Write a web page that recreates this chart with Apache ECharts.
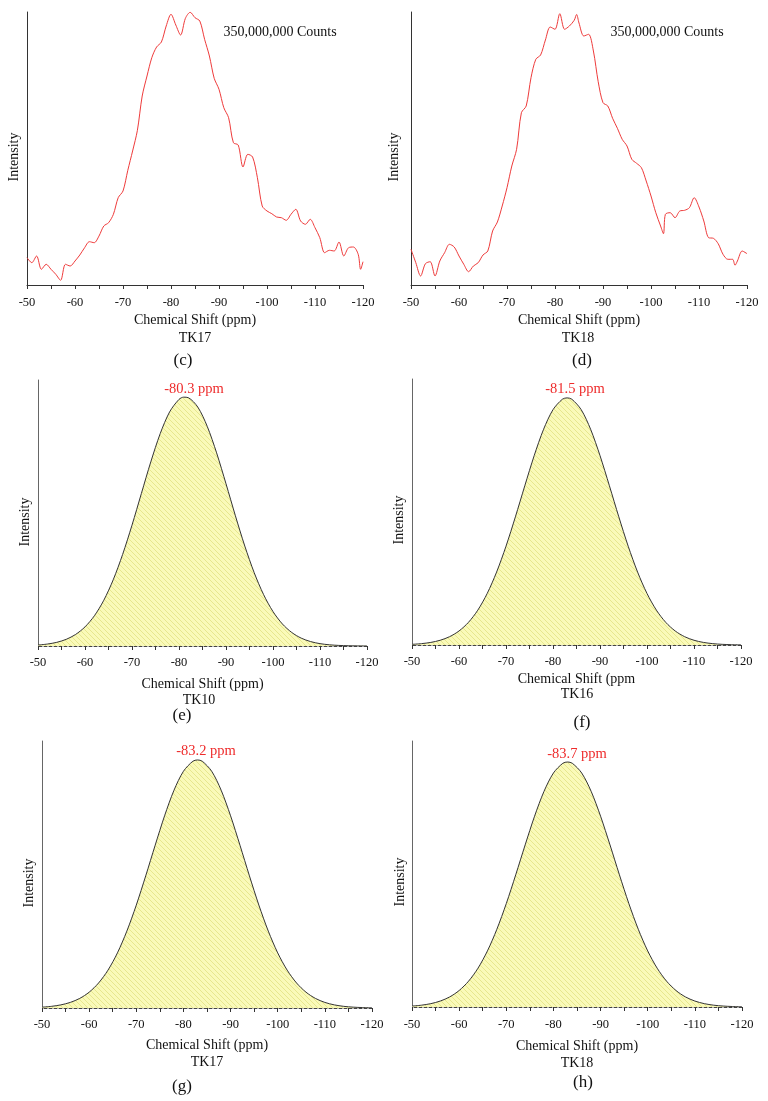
<!DOCTYPE html>
<html>
<head>
<meta charset="utf-8">
<script src="https://cdn.jsdelivr.net/npm/echarts@6/dist/echarts.min.js"></script>
<style>
html,body{margin:0;padding:0;background:#fff;}
#chart{width:768px;height:1101px;}
</style>
</head>
<body>
<div id="chart"></div>
<script>
// ---------- DATA ----------
const xTicks = [-50, -60, -70, -80, -90, -100, -110, -120];

// (c) TK17 raw spectrum
const shiftC = [-50,-51,-52,-53,-54,-55,-56,-57,-58,-59,-60,-61,-62,-63,-64,-65,-66,-67,-68,-69,-70,-71,-72,-73,-74,-75,-76,-77,-78,-79,-80,-81,-82,-83,-84,-85,-86,-87,-88,-89,-90,-91,-92,-93,-94,-95,-96,-97,-98,-99,-100,-101,-102,-103,-104,-105,-106,-107,-108,-109,-110,-111,-112,-113,-114,-115,-116,-117,-118,-119,-119.5,-120];
const intensityC = [27.3,22.3,29.0,15.7,20.7,15.7,10.7,4.7,20.7,19.0,24.0,30.0,37.3,43.3,42.3,49.0,59.0,62.3,70.7,87.3,94.0,114.7,134.0,154.7,189.0,209.0,227.3,238.0,243.0,259.0,270.7,260.0,250.0,266.7,272.7,267.3,264.0,245.7,229.0,206.7,195.7,177.3,167.3,142.3,140.0,118.0,130.7,128.0,107.3,79.0,74.0,71.3,68.0,67.3,64.7,70.7,75.7,64.0,60.7,65.7,57.3,47.3,32.3,34.7,34.0,43.0,29.0,37.3,38.0,30.7,15.7,23.3];

// (d) TK18 raw spectrum
const shiftD = [-50,-51,-52,-53,-54,-55,-56,-57,-58,-59,-60,-61,-62,-63,-64,-65,-66,-67,-68,-69,-70,-71,-72,-73,-74,-75,-76,-77,-78,-79,-80,-81,-82,-83,-84,-84.5,-85,-86,-87,-88,-89,-90,-91,-92,-93,-94,-95,-96,-97,-98,-99,-100,-101,-102,-102.6,-103,-104,-105,-106,-107,-108,-109,-110,-111,-112,-113,-114,-115,-116,-117,-117.5,-118,-119,-120];
const intensityD = [35.7,22.3,9.0,21.3,23.3,9.0,24.0,32.3,40.7,38.0,29.0,20.7,13.3,19.0,22.3,30.0,34.0,54.0,63.0,79.0,97.3,119.0,135.7,172.3,179.0,207.3,225.7,230.0,245.0,258.0,255.7,271.3,255.7,259.0,264.7,270.5,262.0,249.0,250.7,234.0,203.3,182.3,179.0,166.7,156.7,145.7,139.0,125.7,121.7,117.3,104.0,89.0,72.3,59.0,51.3,70.7,72.3,67.3,74.0,74.7,77.3,87.3,78.0,64.0,47.3,46.7,41.3,30.7,25.7,25.7,19.7,24.0,34.0,31.3];

// (e) TK10 fitted peak (2 ppm steps plus apex)
const shiftTK10 = [-50,-52,-54,-56,-58,-60,-62,-64,-66,-68,-70,-72,-74,-76,-78,-80,-81,-82,-84,-86,-88,-90,-92,-94,-96,-98,-100,-102,-104,-106,-108,-110,-112,-114,-116,-118,-120];
const fitTK10 = [0.37,0.73,1.38,2.50,4.34,7.18,11.37,17.20,24.88,34.40,45.43,57.37,69.23,79.84,88.00,92.71,93.55,93.34,89.82,82.60,72.61,60.99,48.96,37.57,27.56,19.32,12.94,8.28,5.07,2.96,1.66,0.88,0.45,0.22,0.10,0.05,0.02];

// (f)-(h) fitted peaks (2 ppm steps plus apex)
const shiftFit = [-50,-52,-54,-56,-58,-60,-62,-64,-66,-68,-70,-72,-74,-76,-78,-80,-82,-83,-84,-86,-88,-90,-92,-94,-96,-98,-100,-102,-104,-106,-108,-110,-112,-114,-116,-118,-120];
const fitTK16 = [0.25,0.51,0.97,1.78,3.13,5.27,8.49,13.10,19.37,27.41,37.13,48.19,59.87,71.21,81.11,88.47,92.40,92.90,92.40,88.47,81.11,71.21,59.87,48.19,37.13,27.41,19.37,13.10,8.49,5.27,3.13,1.78,0.97,0.51,0.25,0.12,0.06];
const fitTK17 = [0.32,0.62,1.17,2.09,3.59,5.92,9.36,14.19,20.63,28.80,38.54,49.49,60.93,71.98,81.57,88.65,92.42,92.90,92.42,88.65,81.57,71.98,60.93,49.49,38.54,28.80,20.63,14.19,9.36,5.92,3.59,2.09,1.17,0.62,0.32,0.16,0.07];
const fitTK18 = [0.36,0.68,1.26,2.24,3.79,6.20,9.71,14.60,21.08,29.22,38.88,49.68,60.93,71.73,81.07,87.96,91.63,92.10,91.63,87.96,81.07,71.73,60.93,49.68,38.88,29.22,21.08,14.60,9.71,6.20,3.79,2.24,1.26,0.68,0.36,0.18,0.09];

const sampleNames = ['TK17','TK18','TK10','TK16','TK17','TK18'];
const panelLetters = ['(c)','(d)','(e)','(f)','(g)','(h)'];
const peakLabels = ['-80.3 ppm','-81.5 ppm','-83.2 ppm','-83.7 ppm'];
const countsText = '350,000,000 Counts';
const xTitles = ['Chemical Shift (ppm)','Chemical Shift (ppm)','Chemical Shift (ppm)','Chemical Shift (ppm','Chemical Shift (ppm)','Chemical Shift (ppm)'];
const yTitle = 'Intensity';

// ---------- LAYOUT ----------
const FONT = "'Liberation Serif','Times New Roman',serif";
const panels = [
  {left:27, top:12, w:336, h:273, ymax:273, raw:true, x:shiftC, y:intensityC, gap:28, margin:11,
   yt:[14,157], tk:[195,338], lt:[183,361], cnt:[280,32]},
  {left:411, top:12, w:336, h:273, ymax:273, raw:true, x:shiftD, y:intensityD, gap:28, margin:11,
   yt:[394,157], tk:[578,338], lt:[582,361], cnt:[667,32]},
  {left:38, top:380, w:329, h:266, ymax:100, raw:false, x:shiftTK10, y:fitTK10, gap:31, margin:10,
   yt:[25,522], tk:[199,700], lt:[182,716], pk:[194,389]},
  {left:412, top:379, w:329, h:266, ymax:100, raw:false, x:shiftFit, y:fitTK16, gap:27, margin:10,
   yt:[399,520], tk:[577,694], lt:[582,723], pk:[575,389]},
  {left:42, top:741, w:330, h:267, ymax:100, raw:false, x:shiftFit, y:fitTK17, gap:30, margin:10,
   yt:[29,883], tk:[207,1062], lt:[182,1087], pk:[206,751]},
  {left:412, top:741, w:330, h:266, ymax:100, raw:false, x:shiftFit, y:fitTK18, gap:32, margin:11,
   yt:[400,882], tk:[577,1063], lt:[583,1083], pk:[577,754]}
];

function hatch(){
  const c = document.createElement('canvas');
  c.width = 5; c.height = 5;
  const g = c.getContext('2d');
  g.fillStyle = '#fafab9';
  g.fillRect(0,0,5,5);
  g.strokeStyle = '#e7e78e';
  g.lineWidth = 1;
  g.beginPath();
  g.moveTo(0,0); g.lineTo(5,5);
  g.moveTo(-1,4); g.lineTo(1,6);
  g.moveTo(4,-1); g.lineTo(6,1);
  g.stroke();
  return c;
}
const hatchImg = hatch();

const grids = [], xAxes = [], yAxes = [], series = [], graphics = [];
let pkIdx = 0;
panels.forEach((p, i) => {
  grids.push({left:p.left, top:p.top, width:p.w, height:p.h, containLabel:false});
  xAxes.push({
    gridIndex:i, type:'value', min:-120, max:-50, interval:10, inverse:true,
    name:xTitles[i], nameLocation:'middle', nameGap:p.gap,
    nameTextStyle:{fontFamily:FONT, fontSize:14, color:'#111'},
    axisLine:{show:true, onZero:false, lineStyle:{color:p.raw?'#333':'#444', width:1, type:p.raw?'solid':[3,2]}},
    axisTick:{show:true, length:4, lineStyle:{color:'#333'}},
    minorTick:{show:true, splitNumber:2, length:4, lineStyle:{color:'#333'}},
    splitLine:{show:false}, minorSplitLine:{show:false},
    axisLabel:{fontFamily:FONT, fontSize:12.5, color:'#111', margin:p.margin,
      formatter: v => (xTicks.indexOf(v) >= 0 ? String(v) : '')}
  });
  yAxes.push({
    gridIndex:i, type:'value', min:0, max:p.ymax,
    axisLine:{show:true, lineStyle:{color:p.raw?'#333':'#666', width:1}},
    axisTick:{show:false}, axisLabel:{show:false}, splitLine:{show:false}
  });
  const pts = p.x.map((x, k) => [x, p.y[k]]);
  if (p.raw) {
    series.push({type:'line', xAxisIndex:i, yAxisIndex:i, data:pts, showSymbol:false,
      smooth:0.3, lineStyle:{color:'#ee3b3b', width:1}, silent:true, animation:false});
  } else {
    series.push({type:'line', xAxisIndex:i, yAxisIndex:i, data:pts, showSymbol:false,
      smooth:0.3, lineStyle:{color:'#333', width:1},
      areaStyle:{color:{image:hatchImg, repeat:'repeat'}, opacity:1},
      silent:true, animation:false, z:1});
  }
  // texts
  graphics.push({type:'text', x:p.yt[0], y:p.yt[1], rotation:Math.PI/2,
    style:{text:yTitle, font:'14px '+FONT, fill:'#111', align:'center', verticalAlign:'middle'}});
  graphics.push({type:'text', x:p.tk[0], y:p.tk[1],
    style:{text:sampleNames[i], font:'14px '+FONT, fill:'#111', align:'center', verticalAlign:'middle'}});
  graphics.push({type:'text', x:p.lt[0], y:p.lt[1],
    style:{text:panelLetters[i], font:'17px '+FONT, fill:'#111', align:'center', verticalAlign:'middle'}});
  if (p.cnt) {
    graphics.push({type:'text', x:p.cnt[0], y:p.cnt[1],
      style:{text:countsText, font:'14px '+FONT, fill:'#111', align:'center', verticalAlign:'middle'}});
  }
  if (p.pk) {
    graphics.push({type:'text', x:p.pk[0], y:p.pk[1],
      style:{text:peakLabels[pkIdx++], font:'14.5px '+FONT, fill:'#ee2b2b', align:'center', verticalAlign:'middle'}});
  }
});

const chart = echarts.init(document.getElementById('chart'), null, {renderer:'canvas'});
chart.setOption({
  backgroundColor:'#fff',
  animation:false,
  grid:grids, xAxis:xAxes, yAxis:yAxes, series:series,
  graphic:graphics
});
</script>
</body>
</html>
